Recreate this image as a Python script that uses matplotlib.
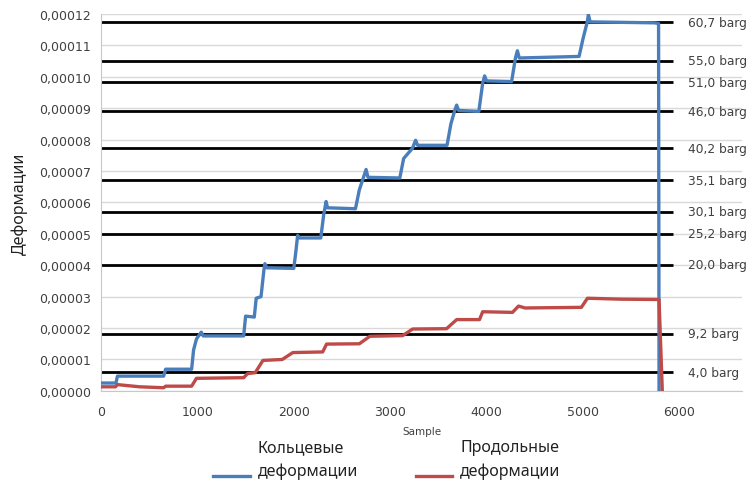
import matplotlib
matplotlib.use("Agg")
import matplotlib.pyplot as plt
import numpy as np
from matplotlib.legend_handler import HandlerLine2D

# strain values are given in units of 1e-5
STRAIN_UNIT = 1e-5

hoop_sample = [0, 155, 170, 650, 670, 940, 960, 990, 1040, 1060, 1480, 1500, 1590,
               1610, 1660, 1690, 1700, 1720, 2000, 2020, 2040, 2060, 2280, 2310,
               2335, 2350, 2640, 2680, 2750, 2770, 3100, 3140, 3230, 3264, 3285,
               3590, 3630, 3670, 3690, 3710, 3920, 3960, 3980, 4000, 4260, 4300,
               4320, 4340, 4960, 5000, 5045, 5057, 5075, 5740, 5785, 5790]
hoop_strain = [0.25, 0.25, 0.47, 0.47, 0.69, 0.69, 1.30, 1.65, 1.87, 1.75, 1.75, 2.38,
               2.35, 2.95, 3.00, 3.85, 4.05, 3.92, 3.90, 4.40, 4.95, 4.87, 4.87, 5.60,
               6.03, 5.83, 5.80, 6.40, 7.05, 6.80, 6.78, 7.40, 7.72, 7.98, 7.82,
               7.82, 8.50, 8.93, 9.10, 8.93, 8.90, 9.80, 10.03, 9.87, 9.85, 10.60,
               10.83, 10.60, 10.65, 11.20, 11.75, 11.98, 11.75, 11.72, 11.70, 0.0]

axial_sample = [0, 150, 170, 400, 650, 670, 940, 990, 1480, 1520, 1600, 1680, 1880,
                1990, 2300, 2340, 2680, 2790, 3130, 3233, 3585, 3690, 3927, 3960,
                4269, 4332, 4400, 4984, 5047, 5400, 5790, 5824]
axial_strain = [0.13, 0.13, 0.20, 0.13, 0.10, 0.15, 0.15, 0.40, 0.42, 0.55, 0.58,
                0.97, 1.00, 1.22, 1.24, 1.49, 1.50, 1.74, 1.76, 1.97, 1.98, 2.27,
                2.27, 2.52, 2.50, 2.70, 2.64, 2.66, 2.95, 2.92, 2.91, -0.03]

pressure_labels = ["4,0 barg", "9,2 barg", "20,0 barg", "25,2 barg", "30,1 barg",
                   "35,1 barg", "40,2 barg", "46,0 barg", "51,0 barg", "55,0 barg",
                   "60,7 barg"]
pressure_strain = [0.60, 1.82, 4.01, 5.00, 5.71, 6.70, 7.72, 8.90, 9.83, 10.52, 11.74]

series_names = ["Кольцевые\nдеформации", "Продольные\nдеформации"]
x_ticks = [0, 1000, 2000, 3000, 4000, 5000, 6000]
y_ticks = [0, 1, 2, 3, 4, 5, 6, 7, 8, 9, 10, 11, 12]

BLUE = "#4a7ebb"
RED = "#be4b48"
TEXT = "#404040"


class LowerLineHandler(HandlerLine2D):
    # put the legend line next to the second text row
    def create_artists(self, legend, orig_handle, xdescent, ydescent, width, height,
                       fontsize, trans):
        return super().create_artists(legend, orig_handle, xdescent, ydescent + 24,
                                      width, height, fontsize, trans)


fig = plt.figure(figsize=(7.54, 4.85), dpi=100)
ax = fig.add_axes([0.134, 0.192, 0.850, 0.777])

ax.set_xlim(0, 6650)
ax.set_ylim(0, 12 * STRAIN_UNIT)
ax.set_xticks(x_ticks)
ax.set_yticks(np.array(y_ticks) * STRAIN_UNIT)
ax.set_yticklabels([f"{v * STRAIN_UNIT:.5f}".replace(".", ",") for v in y_ticks])
ax.tick_params(length=0, labelsize=9, colors=TEXT, pad=7)
ax.tick_params(axis="x", pad=10)

ax.grid(axis="y", color="#d9d9d9", linewidth=1.0)
ax.set_axisbelow(True)
for side in ("top", "right"):
    ax.spines[side].set_visible(False)
for side in ("left", "bottom"):
    ax.spines[side].set_color("#c8c8c8")

levels = np.array(pressure_strain) * STRAIN_UNIT
ax.hlines(levels, 0, 5935, colors="black", linewidth=2.0, zorder=2)
for lab, lv in zip(pressure_labels, levels):
    ax.text(6090, lv, lab, fontsize=8.8, color=TEXT, va="center", ha="left",
            clip_on=False, zorder=4)

h1, = ax.plot(hoop_sample, np.array(hoop_strain) * STRAIN_UNIT, color=BLUE,
              linewidth=2.4, zorder=3, label=series_names[0])
h2, = ax.plot(axial_sample, np.array(axial_strain) * STRAIN_UNIT, color=RED,
              linewidth=2.4, zorder=3, label=series_names[1])

ax.set_xlabel("Sample", fontsize=7.5, color=TEXT, labelpad=6)
ax.set_ylabel("Деформации", fontsize=11.5, color="#222222", labelpad=8,
              family="Noto Sans")

leg = fig.legend([h1, h2], series_names, loc="upper center",
                 bbox_to_anchor=(0.513, 0.122), ncol=2, frameon=False,
                 prop={"family": "Noto Sans", "size": 11.5},
                 handlelength=2.3, handletextpad=0.5, columnspacing=3.6,
                 handler_map={h1: LowerLineHandler(), h2: LowerLineHandler()})
for t in leg.get_texts():
    t.set_linespacing(1.6)
    t.set_color("#222222")

fig.savefig("out.png", dpi=100)
